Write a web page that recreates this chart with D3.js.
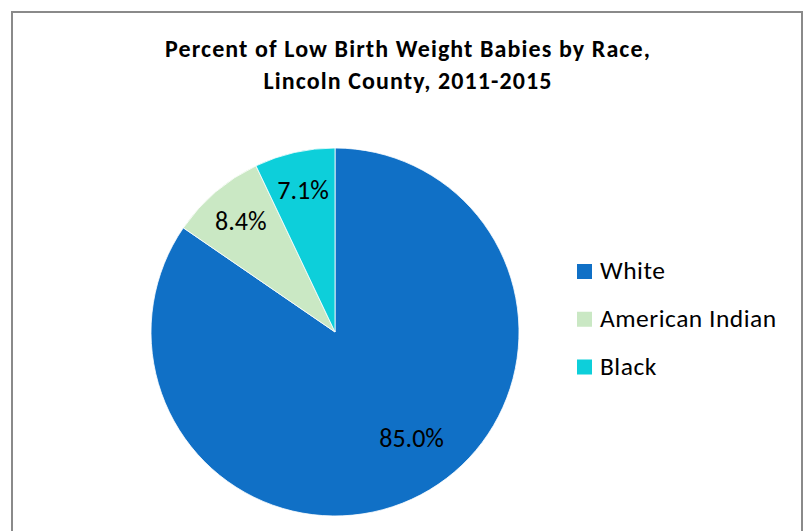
<!DOCTYPE html>
<html>
<head>
<meta charset="utf-8">
<script src="https://cdn.jsdelivr.net/npm/d3@7"></script>
<style>
  body { margin: 0; background: #fff; }
  text { font-family: Carlito, Lato, "Open Sans", sans-serif; }
</style>
</head>
<body>
<div id="chart"></div>
<script>
const races = ["White", "American Indian", "Black"];
const percents = [85.0, 8.4, 7.1];
const colors = ["#1070C6", "#CAE8C4", "#0DCFDA"];

const width = 807, height = 531;
const svg = d3.select("#chart").append("svg")
    .attr("width", width).attr("height", height);

// chart frame
svg.append("rect")
    .attr("x", 12).attr("y", 12)
    .attr("width", 790).attr("height", 540)
    .attr("fill", "#fff")
    .attr("stroke", "#8a8a8a").attr("stroke-width", 2);

/* title */
const title = svg.append("text")
    .attr("text-anchor", "middle")
    .style("font-size", "24px").style("font-weight", "700")
    .style("letter-spacing", "1.1px")
    .attr("fill", "#000");
title.append("tspan").attr("x", 408).attr("y", 57).text("Percent of Low Birth Weight Babies by Race,");
title.append("tspan").attr("x", 408).attr("y", 88.5).text("Lincoln County, 2011-2015");

/* pie */
const cx = 335, cy = 332, R = 184;
const data = races.map((r, i) => ({race: r, value: percents[i], color: colors[i]}));

const pie = d3.pie().value(d => d.value).sort(null);
const arcs = pie(data);
const arc = d3.arc().innerRadius(0).outerRadius(R);

const g = svg.append("g").attr("transform", `translate(${cx},${cy})`);

g.selectAll("path.slice")
    .data(arcs)
    .join("path")
    .attr("class", "slice")
    .attr("d", arc)
    .attr("fill", d => d.data.color)
    .attr("stroke", "#fff")
    .attr("stroke-width", 0.8);

// Excel "best fit": big slice label pulled in and nudged toward the gap
const labelPos = d => {
    const big = (d.endAngle - d.startAngle) > Math.PI;
    const r = big ? 131 : 145;
    const a = (d.startAngle + d.endAngle) / 2 - (big ? 0.14 : 0);
    return [r * Math.sin(a), -r * Math.cos(a)];
};

g.selectAll("text.lbl")
    .data(arcs)
    .join("text")
    .attr("class", "lbl")
    .attr("transform", d => `translate(${labelPos(d)})`)
    .attr("text-anchor", "middle")
    .attr("dy", 8.5)
    .style("font-size", "26px")
    .attr("fill", "#000")
    .text(d => d.data.value.toFixed(1) + "%");

/* legend */
const legend = svg.append("g").attr("transform", "translate(577,271.5)");
const ly = d3.scalePoint().domain(races).range([0, 95.5]);

const item = legend.selectAll("g")
    .data(data)
    .join("g")
    .attr("transform", d => `translate(0,${ly(d.race)})`);

item.append("rect")
    .attr("x", 0).attr("y", -7.5)
    .attr("width", 15).attr("height", 15)
    .attr("fill", d => d.color);

item.append("text")
    .attr("x", 23).attr("y", 7.5)
    .style("font-size", "25.5px")
    .style("letter-spacing", "0.5px")
    .attr("fill", "#000")
    .text(d => d.race);
</script>
</body>
</html>
